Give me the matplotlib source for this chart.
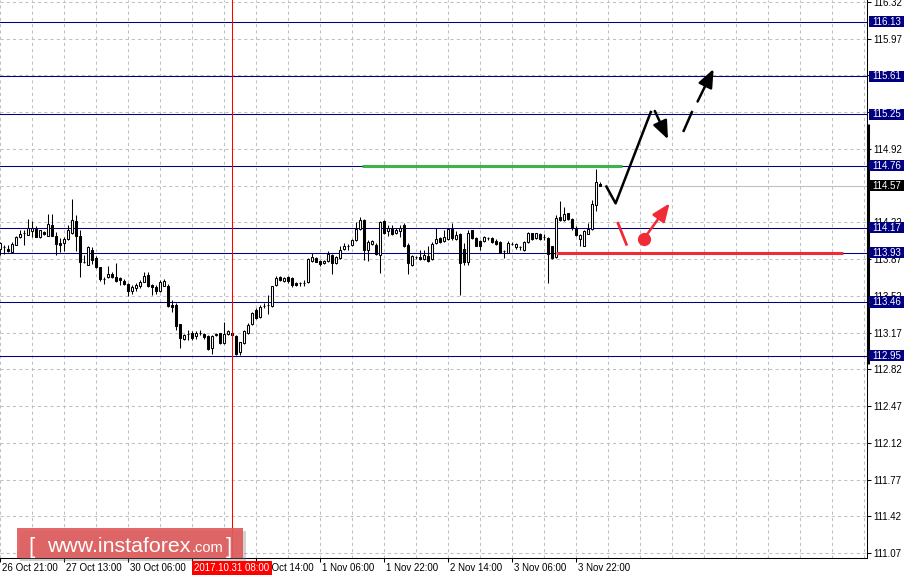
import matplotlib
matplotlib.use('Agg')
import matplotlib.pyplot as plt
from matplotlib.patches import Rectangle
from matplotlib.transforms import blended_transform_factory
import numpy as np

plt.rcParams['font.family'] = ['Liberation Sans', 'DejaVu Sans']

# H1 bars (bar 0 = 26 Oct 21:00)
opens = [113.97, 113.98, 113.97, 113.94, 114.00, 114.08, 114.12, 114.10, 114.14, 114.16,
         114.08, 114.13, 114.09, 114.19, 114.09, 114.02, 114.02, 114.06, 114.12, 114.23,
         114.09, 113.84, 113.81, 113.96, 113.88, 113.79, 113.68, 113.70, 113.73, 113.70,
         113.69, 113.66, 113.63, 113.57, 113.59, 113.61, 113.65, 113.72, 113.62, 113.60,
         113.57, 113.61, 113.61, 113.43, 113.43, 113.25, 113.11, 113.16, 113.17, 113.14,
         113.17, 113.16, 113.14, 113.02, 113.15, 113.17, 113.07, 113.16, 113.17, 113.14,
         112.98, 113.07, 113.17, 113.25, 113.38, 113.32, 113.42, 113.43, 113.42, 113.62,
         113.70, 113.66, 113.70, 113.69, 113.64, 113.64, 113.64, 113.65, 113.85, 113.88,
         113.85, 113.83, 113.85, 113.91, 113.83, 113.88, 113.97, 113.99, 114.00, 114.05,
         114.16, 114.24, 113.96, 114.01, 114.00, 113.91, 114.23, 114.14, 114.16, 114.12,
         114.14, 114.19, 114.00, 113.81, 113.89, 113.89, 113.87, 113.90, 113.87, 114.02,
         114.07, 114.04, 114.06, 114.16, 114.06, 114.11, 113.97, 113.84, 114.15, 114.07,
         114.04, 114.04, 114.07, 114.07, 114.04, 114.03, 113.95, 113.93, 114.01, 113.98,
         113.98, 113.96, 114.03, 114.12, 114.07, 114.11, 114.08, 114.07, 113.99, 113.89,
         114.27, 114.24, 114.31, 114.25, 114.17, 114.06, 113.99, 114.11, 114.16, 114.38,
         114.58]
highs = [114.03, 114.00, 114.00, 114.03, 114.09, 114.15, 114.15, 114.25, 114.23, 114.18,
         114.15, 114.14, 114.30, 114.30, 114.13, 114.07, 114.08, 114.19, 114.44, 114.29,
         114.15, 113.91, 113.99, 113.98, 113.90, 113.79, 113.70, 113.80, 113.75, 113.83,
         113.70, 113.68, 113.64, 113.62, 113.64, 113.67, 113.75, 113.75, 113.63, 113.62,
         113.67, 113.68, 113.63, 113.48, 113.45, 113.25, 113.16, 113.19, 113.18, 113.18,
         113.19, 113.17, 113.15, 113.15, 113.17, 113.17, 113.27, 113.19, 113.18, 113.15,
         113.08, 113.19, 113.26, 113.37, 113.40, 113.43, 113.45, 113.53, 113.61, 113.71,
         113.71, 113.70, 113.71, 113.70, 113.65, 113.65, 113.67, 113.88, 113.93, 113.89,
         113.86, 113.86, 113.95, 113.92, 113.90, 113.99, 114.02, 114.01, 114.06, 114.22,
         114.27, 114.25, 114.05, 114.05, 114.02, 114.23, 114.24, 114.19, 114.19, 114.17,
         114.19, 114.21, 114.02, 113.91, 113.90, 113.96, 113.96, 113.99, 114.03, 114.17,
         114.08, 114.15, 114.16, 114.21, 114.14, 114.12, 114.02, 114.15, 114.15, 114.08,
         114.05, 114.09, 114.08, 114.08, 114.06, 114.04, 113.96, 114.04, 114.03, 114.02,
         113.99, 114.04, 114.13, 114.12, 114.12, 114.12, 114.11, 114.08, 113.99, 114.29,
         114.42, 114.37, 114.31, 114.26, 114.18, 114.11, 114.15, 114.21, 114.43, 114.73,
         114.60]
lows = [113.91, 113.92, 113.94, 113.93, 114.00, 114.07, 114.00, 114.10, 114.08, 114.08,
        114.07, 114.10, 114.09, 114.09, 113.91, 113.94, 113.95, 114.05, 114.11, 113.95,
        113.70, 113.83, 113.81, 113.82, 113.78, 113.66, 113.63, 113.69, 113.69, 113.65,
        113.62, 113.62, 113.52, 113.54, 113.57, 113.59, 113.65, 113.60, 113.53, 113.54,
        113.56, 113.61, 113.41, 113.37, 113.19, 113.02, 113.10, 113.10, 113.10, 113.11,
        113.15, 113.11, 113.00, 112.97, 113.14, 113.06, 113.06, 113.15, 113.14, 112.96,
        112.96, 113.06, 113.16, 113.24, 113.30, 113.31, 113.40, 113.35, 113.41, 113.61,
        113.66, 113.65, 113.64, 113.60, 113.61, 113.61, 113.61, 113.64, 113.84, 113.84,
        113.80, 113.82, 113.84, 113.73, 113.82, 113.87, 113.96, 113.96, 113.99, 114.04,
        114.15, 113.86, 113.85, 114.00, 113.91, 113.74, 114.11, 114.09, 114.10, 114.11,
        114.08, 113.98, 113.73, 113.80, 113.87, 113.86, 113.86, 113.84, 113.86, 114.01,
        114.02, 114.03, 114.05, 114.05, 114.05, 113.53, 113.81, 113.81, 114.06, 113.99,
        113.96, 114.03, 114.05, 114.02, 114.00, 113.93, 113.88, 113.93, 114.00, 113.97,
        113.96, 113.95, 114.02, 114.05, 114.06, 114.05, 114.05, 113.64, 113.87, 113.88,
        114.23, 114.23, 114.24, 114.15, 114.09, 113.99, 113.99, 114.11, 114.15, 114.33,
        114.57]
closes = [114.02, 113.98, 113.95, 114.01, 114.08, 114.11, 114.12, 114.17, 114.17, 114.08,
          114.15, 114.11, 114.20, 114.09, 114.01, 114.00, 114.06, 114.15, 114.24, 114.09,
          113.84, 113.84, 113.98, 113.86, 113.79, 113.68, 113.68, 113.73, 113.70, 113.66,
          113.67, 113.63, 113.57, 113.60, 113.62, 113.65, 113.71, 113.61, 113.60, 113.57,
          113.65, 113.66, 113.42, 113.41, 113.23, 113.12, 113.15, 113.16, 113.12, 113.17,
          113.17, 113.13, 113.01, 113.14, 113.16, 113.07, 113.16, 113.18, 113.15, 112.97,
          113.08, 113.18, 113.24, 113.36, 113.31, 113.41, 113.42, 113.43, 113.61, 113.69,
          113.67, 113.69, 113.66, 113.62, 113.62, 113.64, 113.64, 113.87, 113.89, 113.84,
          113.82, 113.85, 113.92, 113.83, 113.89, 113.96, 113.99, 113.99, 114.05, 114.16,
          114.24, 113.96, 114.03, 114.04, 113.92, 114.22, 114.12, 114.17, 114.11, 114.15,
          114.17, 113.99, 113.83, 113.90, 113.89, 113.87, 113.91, 113.85, 114.01, 114.06,
          114.03, 114.08, 114.16, 114.07, 114.10, 113.83, 113.84, 114.12, 114.07, 113.99,
          113.99, 114.08, 114.07, 114.03, 114.01, 113.93, 113.95, 114.02, 114.01, 114.01,
          113.98, 114.03, 114.12, 114.06, 114.12, 114.06, 114.08, 113.92, 113.88, 114.26,
          114.24, 114.30, 114.25, 114.17, 114.10, 114.10, 114.14, 114.16, 114.39, 114.60,
          114.57]

# time scale: 30 Oct 22:00 sits under the cursor label, so it has no text
date_pos = [0, 16, 32, 48, 64, 80, 96, 112, 128, 144]
date_labels = ['26 Oct 21:00', '27 Oct 13:00', '30 Oct 06:00', '', '31 Oct 14:00',
               '1 Nov 06:00', '1 Nov 22:00', '2 Nov 14:00', '3 Nov 06:00', '3 Nov 22:00']
price_ticks = [111.07, 111.42, 111.77, 112.12, 112.47, 112.82, 113.17, 113.52,
               113.87, 114.22, 114.57, 114.92, 115.27, 115.62, 115.97, 116.32]
# scale marks hidden under level boxes get no text
price_tick_labels = ['111.07', '111.42', '111.77', '112.12', '112.47', '112.82', '113.17', '113.52',
                     '113.87', '114.22', '', '114.92', '', '', '115.97', '116.32']
levels = [116.13, 115.61, 115.25, 114.76, 114.17, 113.93, 113.46, 112.95]
bid = 114.57
cursor_bar = 58
cursor_label = '2017.10.31 08:00'

# hand drawn marks (bar index, price)
green_x, green_y = [90.4, 155.4], [114.76, 114.76]
redline_x, redline_y = [138.9, 210.7], [113.93, 113.93]
black_x, black_y = [151.6, 153.9, 162.7], [114.56, 114.40, 115.27]
black_arrow = [(163.7, 115.28), (167.0, 115.01)]
dash_x, dash_y = [170.8, 173.1], [115.08, 115.28]
dash_arrow = [(174.4, 115.37), (178.4, 115.68)]
red_tick_x, red_tick_y = [154.5, 156.6], [114.21, 114.01]
red_dot = (160.9, 114.06)
red_arrow_tip = (167.4, 114.40)

W, H = 906, 579
fig = plt.figure(figsize=(W / 100, H / 100), dpi=100)
ax = fig.add_axes([0, 21 / H, 867 / W, 558 / H])
ax.set_xlim(0, 216.75)
ax.set_ylim(111.0224, 116.3367)

grid_kw = dict(color='#c0c0c0', lw=0.75, ls=(0, (3, 3)), zorder=1)
for v in range(0, 217, 8):
    ax.axvline(v, **grid_kw)
for p in price_ticks:
    ax.axhline(p, **grid_kw)

for lv in levels:
    ax.axhline(lv, color='#000080', lw=0.75, zorder=2)
ax.plot([135, 216.75], [bid, bid], color='#c0c0c0', lw=0.75, zorder=2)

# candles
o = np.array(opens); h = np.array(highs); l = np.array(lows); c = np.array(closes)
x = np.arange(len(o))
ax.vlines(x, l, h, color='black', lw=0.75, zorder=3)
up = c >= o
ax.bar(x[up], (c - o)[up], bottom=o[up], width=0.5, facecolor='white',
       edgecolor='black', lw=0.75, zorder=4)
ax.bar(x[~up], (o - c)[~up], bottom=c[~up], width=0.5, facecolor='black',
       edgecolor='black', lw=0.75, zorder=4)

ax.axvline(cursor_bar, color='#ff0000', lw=0.75, zorder=5)

ax.plot(green_x, green_y, color='#3cb44b', lw=2.2, zorder=6, solid_capstyle='butt')
ax.plot(redline_x, redline_y, color='#ef2b36', lw=2.2, zorder=6, solid_capstyle='butt')

head = dict(arrowstyle='-|>,head_length=1.1,head_width=0.45', lw=1.8, shrinkA=0, shrinkB=0)
ax.plot(black_x, black_y, color='black', lw=1.8, zorder=7)
ax.annotate('', xy=black_arrow[1], xytext=black_arrow[0],
            arrowprops=dict(color='black', **head), zorder=7)
ax.plot(dash_x, dash_y, color='black', lw=1.8, zorder=7, solid_capstyle='butt')
ax.annotate('', xy=dash_arrow[1], xytext=dash_arrow[0],
            arrowprops=dict(color='black', **head), zorder=7)
ax.plot(red_tick_x, red_tick_y, color='#ef2b36', lw=2.0, zorder=7)
ax.plot(*red_dot, 'o', ms=8.5, color='#ef2b36', zorder=7)
ax.annotate('', xy=red_arrow_tip, xytext=red_dot,
            arrowprops=dict(color='#ef2b36', **head), zorder=7)

# axes frame
for s in ['top', 'left']:
    ax.spines[s].set_visible(False)
for s in ['bottom', 'right']:
    ax.spines[s].set_linewidth(0.75)
ax.yaxis.tick_right()
ax.set_yticks(price_ticks)
ax.set_yticklabels(price_tick_labels)
ax.tick_params(axis='y', direction='out', length=3, width=0.75, pad=1.5, labelsize=7)
ax.set_xticks(date_pos)
ax.set_xticklabels([])
ax.tick_params(axis='x', direction='out', length=3, width=0.75)
for pos, txt in zip(date_pos, date_labels):
    if txt:
        ax.annotate(txt, xy=(pos, 0), xycoords=('data', 'axes fraction'), xytext=(1.5, -7.2),
                    textcoords='offset points', ha='left', va='center', fontsize=7,
                    annotation_clip=False)

# price range bar on the scale
tr = blended_transform_factory(ax.transAxes, ax.transData)
ax.plot([1.0015, 1.0015], [115.16, 112.87], transform=tr, color='black', lw=2.2,
        clip_on=False, solid_capstyle='butt', zorder=9)

# level labels on the price scale
def price_box(val, fc):
    ax.add_patch(Rectangle((869 / 867, val - 0.052), 35 / 867, 0.105, transform=tr,
                           facecolor=fc, edgecolor='none', clip_on=False, zorder=10))
    ax.text(872.5 / 867, val, '%.2f' % val, transform=tr, color='white', fontsize=7,
            ha='left', va='center', zorder=11, clip_on=False)

for lv in levels:
    price_box(lv, '#000080')
price_box(bid, 'black')

# cursor time label
ax.annotate(cursor_label, xy=(cursor_bar, 0), xycoords=('data', 'axes fraction'),
            xytext=(0, -7.2), textcoords='offset points', ha='center', va='center',
            fontsize=7, color='white', annotation_clip=False, zorder=12,
            bbox=dict(boxstyle='square,pad=0.2', fc='#ff0000', ec='none'))

# watermark
def fx(px):
    return px / W

def fy(py):
    return 1 - py / H

fig.patches.append(Rectangle((fx(20), fy(561)), fx(226), 30 / H, transform=fig.transFigure,
                             facecolor='#808080', alpha=0.35, edgecolor='none', zorder=20))
fig.patches.append(Rectangle((fx(17), fy(558)), fx(226), 30 / H, transform=fig.transFigure,
                             facecolor='#e05c5c', alpha=0.92, edgecolor='none', zorder=21))
fig.text(fx(28), fy(553), '[', color='white', fontsize=16, va='baseline', zorder=22)
fig.text(fx(47), fy(552), 'www.instaforex', color='white', fontsize=15.4, va='baseline', zorder=22)
fig.text(fx(192), fy(552), '.com', color='white', fontsize=10.5, va='baseline', zorder=22)
fig.text(fx(226), fy(553), ']', color='white', fontsize=16, va='baseline', zorder=22)

fig.savefig('out.png', dpi=100)
